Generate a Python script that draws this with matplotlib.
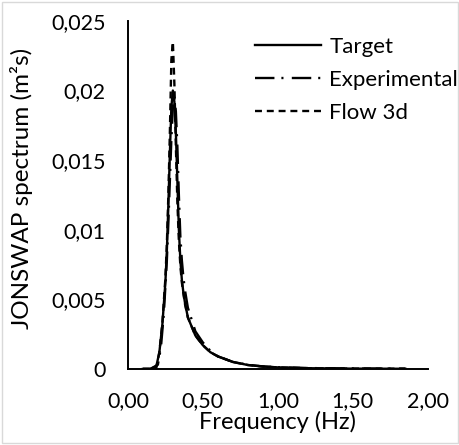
import matplotlib
matplotlib.use('Agg')
import matplotlib.pyplot as plt
from matplotlib.patches import Rectangle
from matplotlib.ticker import FuncFormatter

plt.rcParams['font.family'] = ['Lato', 'DejaVu Sans']
plt.rcParams['lines.scale_dashes'] = False

# Target spectrum
f_target = [0.10, 0.15, 0.19, 0.21, 0.23, 0.25, 0.26, 0.27, 0.28, 0.29, 0.30, 0.31,
            0.32, 0.33, 0.34, 0.35, 0.36, 0.37, 0.38, 0.40, 0.45, 0.50, 0.55, 0.60,
            0.70, 0.80, 0.90, 1.00, 1.20, 1.50, 1.85]
s_target = [0, 0, 0.0002, 0.0012, 0.0032, 0.0062, 0.0085, 0.0118, 0.0155, 0.0188, 0.0200, 0.0192,
            0.0170, 0.0135, 0.0100, 0.0078, 0.0064, 0.0055, 0.0048, 0.0037, 0.0024, 0.0017, 0.0012, 0.0009,
            0.0005, 0.00028, 0.00017, 0.00011, 0.00005, 0.00002, 0.00001]

# Experimental spectrum
f_exp = [0.10, 0.15, 0.20, 0.22, 0.24, 0.26, 0.27, 0.28, 0.29, 0.30, 0.31, 0.32,
         0.33, 0.34, 0.35, 0.36, 0.37, 0.38, 0.40, 0.45, 0.50, 0.55, 0.60, 0.70,
         0.80, 0.90, 1.00, 1.20, 1.50, 1.85]
s_exp = [0, 0, 0.0003, 0.0015, 0.0040, 0.0078, 0.0105, 0.0135, 0.0165, 0.0188, 0.0195, 0.0185,
         0.0160, 0.0125, 0.0095, 0.0078, 0.0066, 0.0057, 0.0044, 0.0027, 0.0019, 0.0013, 0.0009, 0.0005,
         0.0003, 0.00018, 0.00012, 0.00006, 0.00003, 0.00001]

# Flow 3d spectrum
f_flow = [0.10, 0.15, 0.19, 0.21, 0.23, 0.25, 0.26, 0.27, 0.28, 0.29, 0.30, 0.31,
          0.32, 0.33, 0.34, 0.35, 0.36, 0.38, 0.40, 0.45, 0.50, 0.55, 0.60, 0.70,
          0.80, 0.90, 1.00, 1.20, 1.50, 1.85]
s_flow = [0, 0, 0.0001, 0.0012, 0.0033, 0.0065, 0.0090, 0.0125, 0.0170, 0.0222, 0.0235, 0.0205,
          0.0160, 0.0120, 0.0092, 0.0074, 0.0062, 0.0047, 0.0037, 0.0024, 0.0017, 0.0012, 0.0009, 0.0005,
          0.00028, 0.00017, 0.00011, 0.00005, 0.00002, 0.00001]

fig = plt.figure(figsize=(4.6, 4.45), dpi=100)
ax = fig.add_axes([0.278, 0.171, 0.652, 0.782])

ax.plot(f_target, s_target, color='black', lw=1.7, label='Target')
ax.plot(f_exp, s_exp, color='black', lw=1.7, dashes=(14, 5, 1.5, 6), label='Experimental')
ax.plot(f_flow, s_flow, color='black', lw=1.7, dashes=(5, 3.5), label='Flow 3d')

ax.set_xlim(0, 2)
ax.set_ylim(0, 0.025)
ax.set_xticks([0, 0.5, 1.0, 1.5, 2.0])
ax.set_yticks([0, 0.005, 0.01, 0.015, 0.02, 0.025])
ax.xaxis.set_major_formatter(FuncFormatter(lambda v, p: f'{v:.2f}'.replace('.', ',')))
ax.yaxis.set_major_formatter(FuncFormatter(lambda v, p: f'{v:g}'.replace('.', ',')))
ax.tick_params(axis='both', length=0, labelsize=15.5, colors='black')
ax.tick_params(axis='x', pad=16)
ax.tick_params(axis='y', pad=16)
for s in ['top', 'right']:
    ax.spines[s].set_visible(False)
for s in ['left', 'bottom']:
    ax.spines[s].set_linewidth(1.4)

ax.set_xlabel('Frequency (Hz)', fontsize=17, labelpad=0)
ax.set_ylabel('JONSWAP spectrum (m²s)', fontsize=17.5)
ax.yaxis.set_label_coords(-0.318, 0.52)

leg = ax.legend(loc='upper left', bbox_to_anchor=(0.393, 0.980), frameon=False, fontsize=16,
                handlelength=3.0, handletextpad=0.36, labelspacing=0.58, borderaxespad=0)

fig.patches.append(Rectangle((0.004, 0.004), 0.992, 0.992, transform=fig.transFigure,
                             fill=False, edgecolor='#d9d9d9', lw=1))

fig.savefig('out.png', dpi=100)
